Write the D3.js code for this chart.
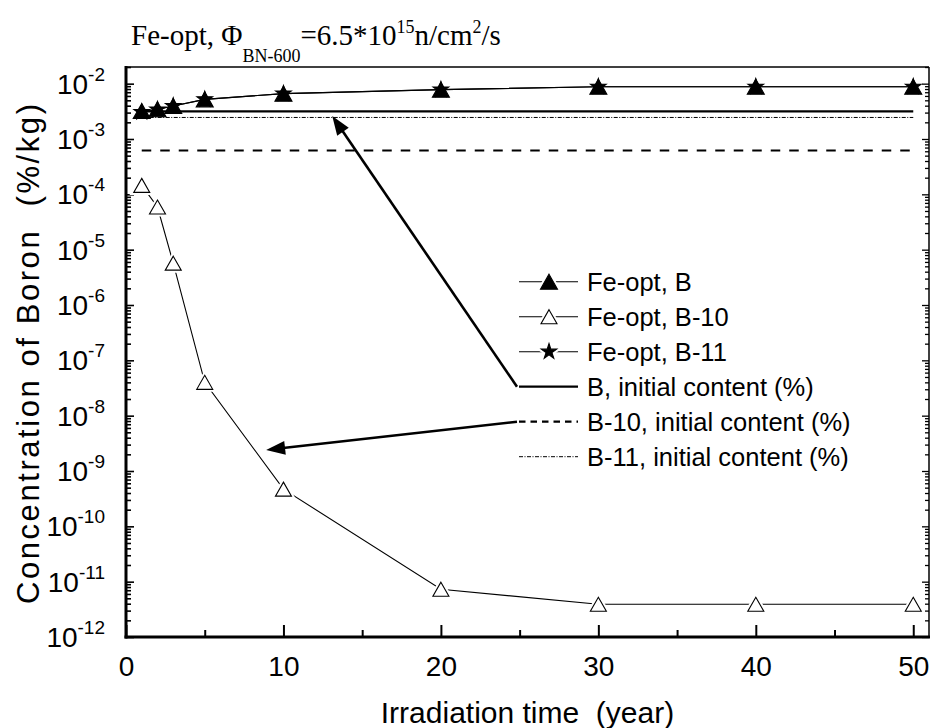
<!DOCTYPE html>
<html>
<head>
<meta charset="utf-8">
<script src="https://cdn.jsdelivr.net/npm/d3@7/dist/d3.min.js"></script>
<style>
  body { margin: 0; background: #fff; }
  svg { display: block; }
</style>
</head>
<body>
<svg id="chart" width="935" height="728"></svg>
<script>
// Irradiation times (years) and boron concentrations (%/kg)
const years = [1, 2, 3, 5, 10, 20, 30, 40, 50];
const feOptB   = [3.2e-3, 3.45e-3, 3.95e-3, 5.2e-3, 6.6e-3, 7.8e-3, 8.8e-3, 8.8e-3, 8.8e-3];
const feOptB10 = [1.45e-4, 5.9e-5, 5.7e-6, 4.0e-8, 4.7e-10, 7.3e-12, 3.9e-12, 3.9e-12, 3.9e-12];
const feOptB11 = [3.05e-3, 3.4e-3, 3.94e-3, 5.2e-3, 6.6e-3, 7.8e-3, 8.8e-3, 8.8e-3, 8.8e-3];

// Initial contents, drawn as horizontal reference lines
const initialB   = 3.15e-3;
const initialB10 = 6.2e-4;
const initialB11 = 2.45e-3;
const initialSpan = [1, 50];

// Axis ticks
const xMajorTicks = [0, 10, 20, 30, 40, 50];
const xMinorTicks = [5, 15, 25, 35, 45];
const yDecades = [-2, -3, -4, -5, -6, -7, -8, -9, -10, -11, -12];

// Legend entries
const legendLabels = [
  "Fe-opt, B", "Fe-opt, B-10", "Fe-opt, B-11",
  "B, initial content (%)", "B-10, initial content (%)", "B-11, initial content (%)"
];

// Arrow tips (data coordinates) pointing from legend entries to curves
const arrowTips = [
  { legendIndex: 3, x: 13.1, y: 2.6e-3 },
  { legendIndex: 4, x: 8.9, y: 2.4e-9 }
];

const svg = d3.select("#chart");
const SANS = "'Liberation Sans', Arial, sans-serif";
const SERIF = "'Liberation Serif', 'Times New Roman', serif";

const plotLeft = 126, plotRight = 929, plotTop = 67, plotBottom = 637;
const x = d3.scaleLinear().domain([0, 51]).range([plotLeft, plotRight]);
const y = d3.scaleLog().domain([1e-12, 2e-2]).range([plotBottom, plotTop]);

// Minor ticks for the log axis
const yMinor = [];
for (let e = -13; e <= -2; e++) {
  for (let m = 2; m <= 9; m++) {
    const v = m * Math.pow(10, e);
    if (v >= 1e-12 && v <= 2e-2) yMinor.push(v);
  }
}

// ---- frame (top & right) ----
svg.append("line").attr("x1", plotLeft).attr("x2", plotRight).attr("y1", plotTop).attr("y2", plotTop)
  .attr("stroke", "#000").attr("stroke-width", 1.5);
svg.append("line").attr("x1", plotRight).attr("x2", plotRight).attr("y1", plotTop).attr("y2", plotBottom)
  .attr("stroke", "#000").attr("stroke-width", 1.5);

// ---- left axis ----
const yAxisMajor = svg.append("g").attr("transform", `translate(${plotLeft},0)`)
  .call(d3.axisLeft(y).tickValues(yDecades.map(e => Math.pow(10, e))).tickSizeInner(-8).tickSizeOuter(0).tickFormat(""));
const yAxisMinor = svg.append("g").attr("transform", `translate(${plotLeft},0)`)
  .call(d3.axisLeft(y).tickValues(yMinor).tickSizeInner(-5).tickSizeOuter(0).tickFormat(""));
[yAxisMajor, yAxisMinor].forEach(g => {
  g.select(".domain").remove();
  g.selectAll(".tick line").attr("stroke", "#000").attr("stroke-width", 1.6);
});

// ---- right axis (inward ticks) ----
const yRMajor = svg.append("g").attr("transform", `translate(${plotRight},0)`)
  .call(d3.axisRight(y).tickValues(yDecades.map(e => Math.pow(10, e))).tickSizeInner(-7).tickSizeOuter(0).tickFormat(""));
const yRMinor = svg.append("g").attr("transform", `translate(${plotRight},0)`)
  .call(d3.axisRight(y).tickValues(yMinor).tickSizeInner(-4).tickSizeOuter(0).tickFormat(""));
[yRMajor, yRMinor].forEach(g => {
  g.select(".domain").remove();
  g.selectAll(".tick line").attr("stroke", "#000").attr("stroke-width", 1.3);
});

svg.append("line").attr("x1", plotLeft).attr("x2", plotLeft).attr("y1", plotTop - 1).attr("y2", plotBottom + 1.5)
  .attr("stroke", "#000").attr("stroke-width", 3);

// y tick labels with superscript exponents
const yLabels = svg.append("g");
yDecades.forEach(e => {
  const t = yLabels.append("text")
    .attr("x", 105).attr("y", y(Math.pow(10, e)) + 10)
    .attr("text-anchor", "end")
    .attr("font-family", SANS).attr("font-size", 28).attr("fill", "#000");
  t.append("tspan").text("10");
  t.append("tspan").attr("dy", -13).attr("font-size", 19).text(String(e));
});

// ---- bottom axis ----
const xAxisMajor = svg.append("g").attr("transform", `translate(0,${plotBottom})`)
  .call(d3.axisBottom(x).tickValues(xMajorTicks).tickSizeInner(-12).tickSizeOuter(0)
    .tickPadding(19).tickFormat(d3.format("d")));
xAxisMajor.select(".domain").remove();
xAxisMajor.selectAll(".tick line").attr("stroke", "#000").attr("stroke-width", 2);
xAxisMajor.selectAll(".tick text").attr("font-family", SANS).attr("font-size", 28).attr("fill", "#000");
const xAxisMinor = svg.append("g").attr("transform", `translate(0,${plotBottom})`)
  .call(d3.axisBottom(x).tickValues(xMinorTicks).tickSizeInner(-7).tickSizeOuter(0).tickFormat(""));
xAxisMinor.select(".domain").remove();
xAxisMinor.selectAll(".tick line").attr("stroke", "#000").attr("stroke-width", 2);

svg.append("line").attr("x1", plotLeft - 1.5).attr("x2", plotRight + 1).attr("y1", plotBottom).attr("y2", plotBottom)
  .attr("stroke", "#000").attr("stroke-width", 3);

// ---- axis titles ----
svg.append("text")
  .attr("x", (plotLeft + plotRight) / 2).attr("y", 723)
  .attr("text-anchor", "middle")
  .attr("font-family", SANS).attr("font-size", 30).attr("fill", "#000")
  .attr("xml:space", "preserve")
  .text("Irradiation time  (year)");

svg.append("text")
  .attr("transform", "translate(39,354) rotate(-90)")
  .attr("text-anchor", "middle")
  .attr("font-family", SANS).attr("font-size", 31).attr("fill", "#000")
  .attr("xml:space", "preserve")
  .attr("textLength", 500).attr("lengthAdjust", "spacing")
  .text("Concentration of Boron  (%/kg)");

// ---- title ----
const title = svg.append("text")
  .attr("x", 131).attr("y", 45)
  .attr("font-family", SERIF).attr("font-size", 29).attr("fill", "#000");
title.append("tspan").text("Fe-opt, \u03A6");
title.append("tspan").attr("dy", 17).attr("font-size", 18).text("BN-600");
title.append("tspan").attr("dy", -17).text("=6.5*10");
title.append("tspan").attr("dy", -12).attr("font-size", 18).text("15");
title.append("tspan").attr("dy", 12).text("n/cm");
title.append("tspan").attr("dy", -12).attr("font-size", 18).text("2");
title.append("tspan").attr("dy", 12).text("/s");

// ---- shapes ----
function triPath(w, h) {
  return `M0,${-h / 2}L${w / 2},${h / 2}L${-w / 2},${h / 2}Z`;
}
const filledTri = triPath(17, 15);
const openTri = triPath(16, 14);
const starPath = d3.symbol(d3.symbolStar, 75)();

const plot = svg.append("g");

// initial-content reference lines
const refLine = (val, dash, width) => plot.append("line")
  .attr("x1", x(initialSpan[0])).attr("x2", x(initialSpan[1]))
  .attr("y1", y(val)).attr("y2", y(val))
  .attr("stroke", "#000").attr("stroke-width", width)
  .attr("stroke-dasharray", dash);
refLine(initialB10, "9.5,9", 2.2);
refLine(initialB11, "4,1.5,1,1.5", 1);
refLine(initialB, null, 2.2);

const lineGen = d3.line().x(d => x(d[0])).y(d => y(d[1]));

function series(vals, markerPath, fill, halo) {
  const pts = years.map((t, i) => [t, vals[i]]);
  const g = plot.append("g");
  g.append("path").attr("d", lineGen(pts)).attr("fill", "none")
    .attr("stroke", "#000").attr("stroke-width", 1.1);
  if (halo) {
    g.selectAll(".halo").data(pts).join("path")
      .attr("d", markerPath).attr("transform", d => `translate(${x(d[0])},${y(d[1])})`)
      .attr("fill", "#fff").attr("stroke", "#fff").attr("stroke-width", 5);
  }
  g.selectAll(".mk").data(pts).join("path")
    .attr("d", markerPath).attr("transform", d => `translate(${x(d[0])},${y(d[1])})`)
    .attr("fill", fill).attr("stroke", "#000").attr("stroke-width", 1.1);
}
series(feOptB10, openTri, "#fff", true);
series(feOptB11, starPath, "#000", false);
series(feOptB, filledTri, "#000", false);

// ---- legend ----
const legX0 = 519, legX1 = 578, legMark = 549, legText = 587, legY0 = 281.7, legDy = 35;
const legend = svg.append("g");
legendLabels.forEach((lab, i) => {
  const cy = legY0 + i * legDy;
  let dash = null, w = 1.1;
  if (i === 3) w = 2.2;
  if (i === 4) { dash = "6.5,5"; w = 2.2; }
  if (i === 5) { dash = "4,1.5,1,1.5"; w = 1; }
  legend.append("line").attr("x1", legX0).attr("x2", legX1).attr("y1", cy).attr("y2", cy)
    .attr("stroke", "#000").attr("stroke-width", w).attr("stroke-dasharray", dash);
  if (i < 3) {
    const p = [filledTri, openTri, starPath][i];
    legend.append("path").attr("d", p).attr("transform", `translate(${legMark},${cy})`)
      .attr("fill", "#fff").attr("stroke", "#fff").attr("stroke-width", 5);
    legend.append("path").attr("d", p).attr("transform", `translate(${legMark},${cy})`)
      .attr("fill", i === 1 ? "#fff" : "#000").attr("stroke", "#000").attr("stroke-width", 1.1);
  }
  legend.append("text").attr("x", legText).attr("y", cy + 9)
    .attr("font-family", SANS).attr("font-size", 25.5).attr("fill", "#000")
    .text(lab);
});

// ---- arrows ----
arrowTips.forEach(a => {
  const x0 = legX0 - 2, y0 = legY0 + a.legendIndex * legDy;
  const x1 = x(a.x), y1 = y(a.y);
  const dx = x1 - x0, dy = y1 - y0, len = Math.hypot(dx, dy);
  const ux = dx / len, uy = dy / len;
  const headL = 19, headW = 7;
  const bx = x1 - ux * headL, by = y1 - uy * headL;
  svg.append("line").attr("x1", x0).attr("y1", y0).attr("x2", bx + ux * 2).attr("y2", by + uy * 2)
    .attr("stroke", "#000").attr("stroke-width", 2.6);
  svg.append("path")
    .attr("d", `M${x1},${y1}L${bx - uy * headW},${by + ux * headW}L${bx + uy * headW},${by - ux * headW}Z`)
    .attr("fill", "#000");
});
</script>
</body>
</html>
